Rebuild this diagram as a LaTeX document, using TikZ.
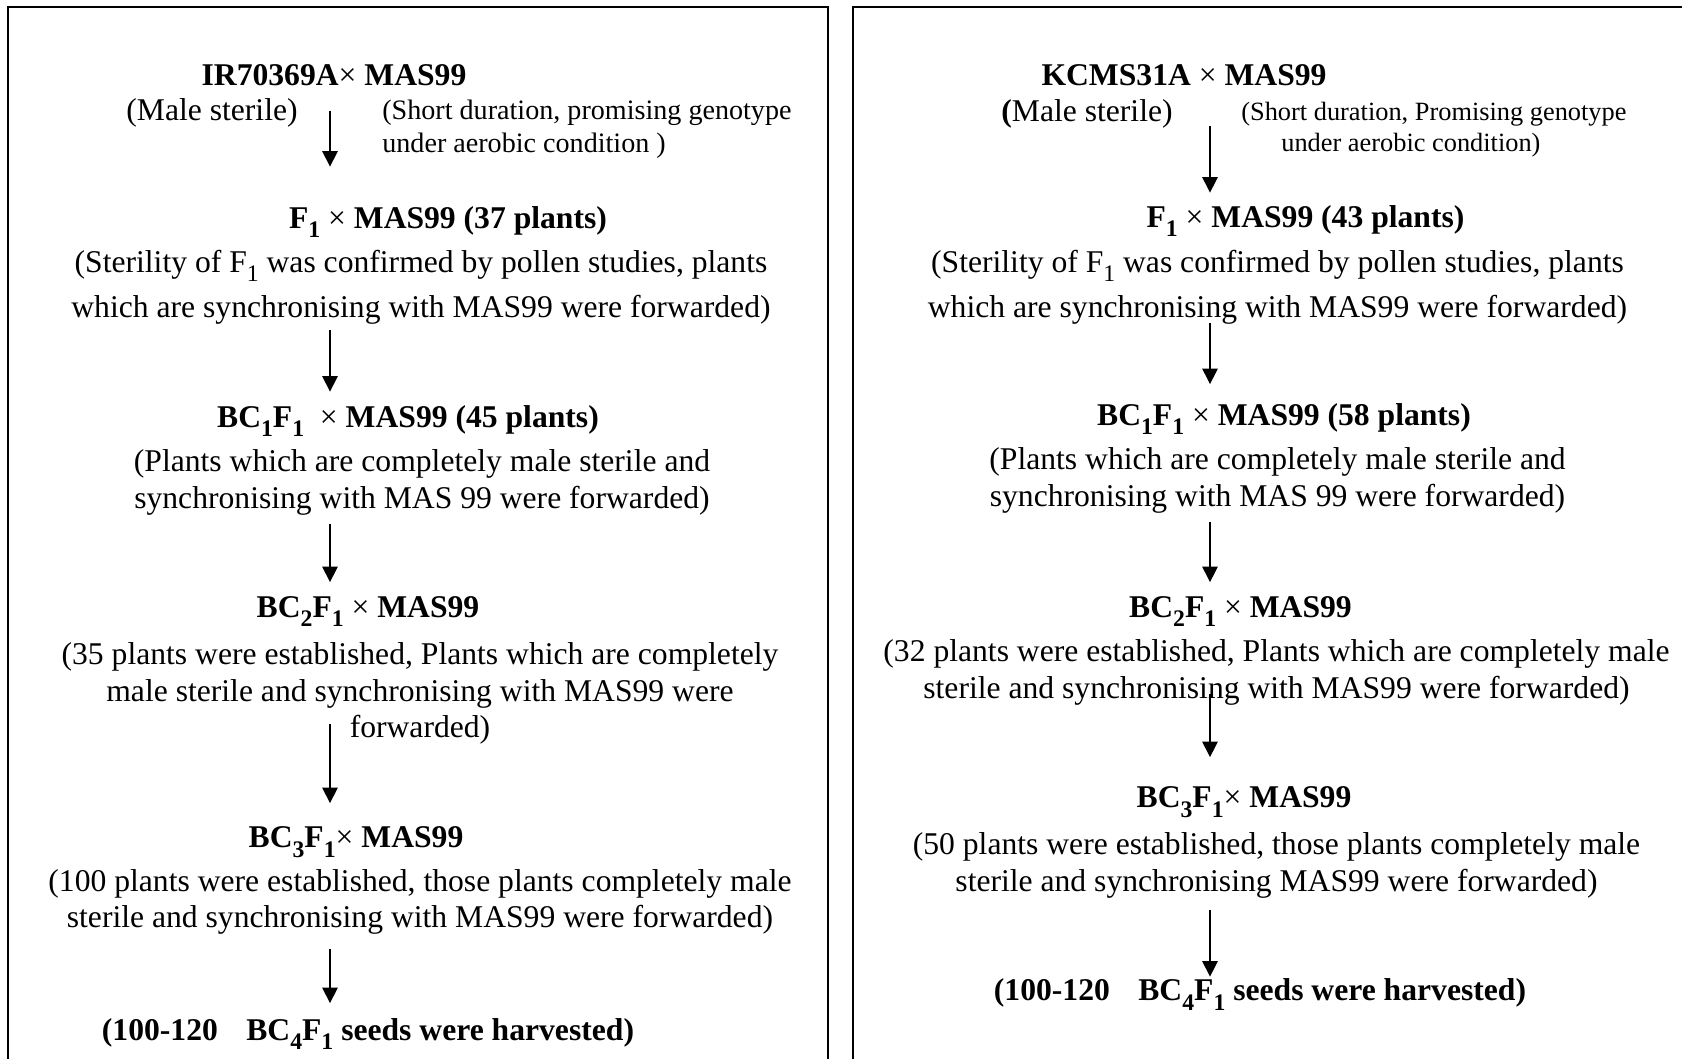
\documentclass[tikz,border=0pt]{standalone}
\usepackage{fontspec}
\setmainfont{Liberation Serif}
\usetikzlibrary{arrows.meta, calc}
\newcommand{\sbs}[1]{\raisebox{-5.5pt}{\fontsize{13.5pt}{13.5pt}\selectfont #1}}

\begin{document}
\begin{tikzpicture}[
    ttl/.style={font=\fontsize{18pt}{20.8pt}\selectfont\bfseries,
                inner sep=0pt, anchor=base},
    txt/.style={font=\fontsize{18pt}{20.8pt}\selectfont, inner sep=0pt,
                align=center},
    note/.style={font=\fontsize{16pt}{19pt}\selectfont, inner sep=0pt,
                 align=left, anchor=west},
    panel/.style={line width=1pt},
    arr/.style={-{Triangle[length=0.31cm, width=0.3cm]}, line width=1.4pt}
  ]
  \useasboundingbox (0,0) rectangle (33.64,-21.18);

  % Panels (open at the bottom)
  \draw[panel] (0.16,-21.18) |- (16.56,-0.14) -- (16.56,-21.18);
  \draw[panel] (17.06,-21.18) |- (33.64,-0.14);

  % Left scheme: IR70369A
  \coordinate (lx) at (6.6,0);
  \node[ttl] (l0) at (6.68,-1.71) {IR70369A{\mdseries ×} MAS99};
  \node[txt, anchor=base] (lms) at (4.24,-2.41) {(Male sterile)};
  \node[note] (ldur) at (7.64,-2.59)
    {(Short duration, promising genotype\\under aerobic condition )};
  \node[ttl] (l1) at (8.96,-4.56) {F\sbs{1} {\mdseries ×} MAS99 (37 plants)};
  \node[txt] (l1t) at (8.42,-5.74)
    {(Sterility of F\sbs{1} was confirmed by pollen studies, plants\\[5pt]
     which are synchronising with MAS99 were forwarded)};
  \node[ttl] (l2) at (8.16,-8.54)
    {BC\sbs{1}F\sbs{1}~~{\mdseries ×} MAS99 (45 plants)};
  \node[txt] (l2t) at (8.44,-9.65)
    {(Plants which are completely male sterile and\\
     synchronising with MAS 99 were forwarded)};
  \node[ttl] (l3) at (7.36,-12.34) {BC\sbs{2}F\sbs{1} {\mdseries ×} MAS99};
  \node[txt] (l3t) at (8.4,-13.87)
    {(35 plants were established, Plants which are completely\\
     male sterile and synchronising with MAS99 were\\
     forwarded)};
  \node[ttl] (l4) at (7.12,-16.95) {BC\sbs{3}F\sbs{1}{\mdseries ×} MAS99};
  \node[txt] (l4t) at (8.4,-18.04)
    {(100 plants were established, those plants completely male\\
     sterile and synchronising with MAS99 were forwarded)};
  \node[ttl] (l5) at (7.36,-20.8)
    {(100-120\hspace{0.9em}BC\sbs{4}F\sbs{1} seeds were harvested)};

  \foreach \a/\b/\s/\e in {l0/l1/0.49cm/0.78cm, l1t/l2/0.11cm/0.26cm,
                           l2t/l3/0.16cm/0.27cm, l3t/l4/-0.42cm/0.46cm,
                           l4t/l5/0.27cm/0.29cm}
    \draw[arr, shorten <=\s, shorten >=\e] (\a.south -| lx) -- (\b.north -| lx);

  % Right scheme: KCMS31A
  \coordinate (rx) at (24.2,0);
  \node[ttl] (r0) at (23.68,-1.7) {KCMS31A {\mdseries ×} MAS99};
  \node[txt, anchor=base] (rms) at (21.74,-2.42) {{\bfseries(}Male sterile)};
  \node[note, font=\fontsize{15pt}{18pt}\selectfont] (rdur) at (24.82,-2.59)
    {(Short duration, Promising genotype\\
     \hspace*{0.8cm}under aerobic condition)};
  \node[ttl] (r1) at (26.11,-4.54) {F\sbs{1} {\mdseries ×} MAS99 (43 plants)};
  \node[txt] (r1t) at (25.55,-5.74)
    {(Sterility of F\sbs{1} was confirmed by pollen studies, plants\\[5pt]
     which are synchronising with MAS99 were forwarded)};
  \node[ttl] (r2) at (25.68,-8.5)
    {BC\sbs{1}F\sbs{1} {\mdseries ×} MAS99 (58 plants)};
  \node[txt] (r2t) at (25.55,-9.61)
    {(Plants which are completely male sterile and\\
     synchronising with MAS 99 were forwarded)};
  \node[ttl] (r3) at (24.81,-12.34) {BC\sbs{2}F\sbs{1} {\mdseries ×} MAS99};
  \node[txt] (r3t) at (25.53,-13.45)
    {(32 plants were established, Plants which are completely male\\
     sterile and synchronising with MAS99 were forwarded)};
  \node[ttl] (r4) at (24.88,-16.15) {BC\sbs{3}F\sbs{1}{\mdseries ×} MAS99};
  \node[txt] (r4t) at (25.53,-17.31)
    {(50 plants were established, those plants completely male\\
     sterile and synchronising MAS99 were forwarded)};
  \node[ttl] (r5) at (25.2,-20.01)
    {(100-120\hspace{0.9em}BC\sbs{4}F\sbs{1} seeds were harvested)};

  \foreach \a/\b/\s/\e in {r0/r1/0.8cm/0.24cm, r1t/r2/-0.04cm/0.37cm,
                           r2t/r3/0.16cm/0.27cm, r3t/r4/-0.24cm/0.58cm,
                           r4t/r5/0.22cm/0.03cm}
    \draw[arr, shorten <=\s, shorten >=\e] (\a.south -| rx) -- (\b.north -| rx);
\end{tikzpicture}
\end{document}
